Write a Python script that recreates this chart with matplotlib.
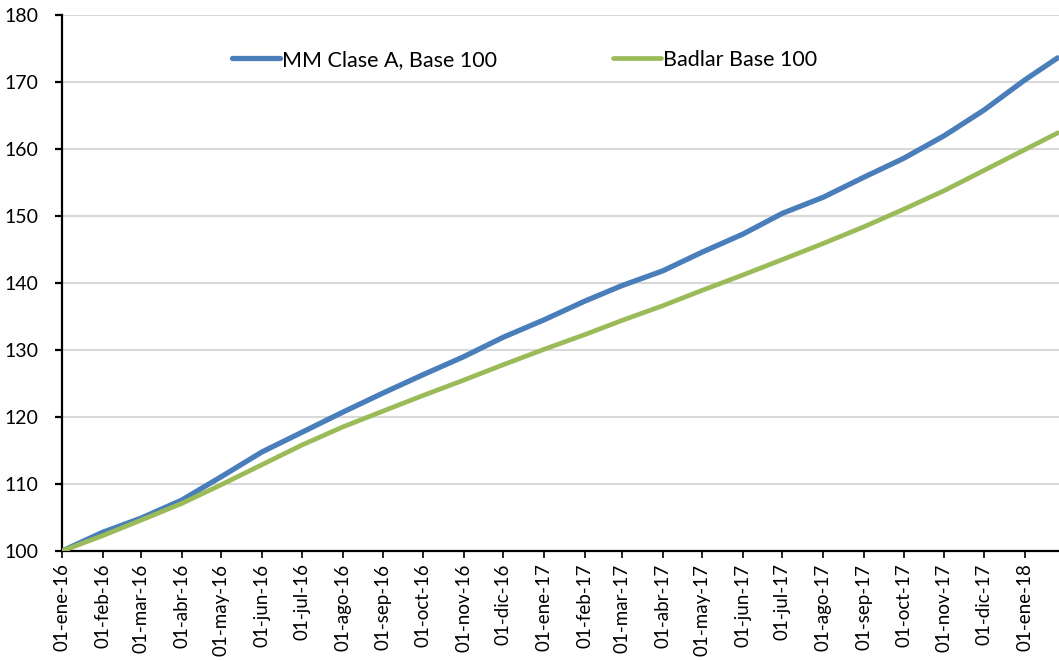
import datetime as dt
import matplotlib
matplotlib.use("Agg")
import matplotlib.pyplot as plt
import matplotlib.dates as mdates

plt.rcParams['font.family'] = ['Lato', 'DejaVu Sans']

# month starts (plus last day shown) and values
dates = [dt.date(2016, m, 1) for m in range(1, 13)] + \
        [dt.date(2017, m, 1) for m in range(1, 13)] + \
        [dt.date(2018, 1, 1), dt.date(2018, 1, 26)]

mm_clase_a = [100.0, 102.8, 104.9, 107.6, 111.1, 114.8, 117.7, 120.7, 123.6, 126.3, 129.0, 131.9,
              134.5, 137.3, 139.6, 141.8, 144.6, 147.3, 150.4, 152.8, 155.8, 158.6, 162.0, 165.8,
              170.3, 173.6]
badlar = [100.0, 102.3, 104.6, 107.1, 109.9, 112.9, 115.8, 118.5, 120.9, 123.2, 125.5, 127.8,
          130.1, 132.3, 134.4, 136.6, 138.9, 141.2, 143.5, 145.9, 148.4, 151.0, 153.8, 156.8,
          159.9, 162.4]

month_abbr = ['ene', 'feb', 'mar', 'abr', 'may', 'jun', 'jul', 'ago', 'sep', 'oct', 'nov', 'dic']
tick_dates = dates[:25]
tick_labels = ['01-%s-%02d' % (month_abbr[d.month - 1], d.year % 100) for d in tick_dates]

fig = plt.figure(figsize=(10.59, 6.61), dpi=100)
ax = fig.add_axes([62 / 1059, 110 / 661, 997 / 1059, 536 / 661])

ax.plot(dates, mm_clase_a, color='#4A7EBB', lw=3.8, solid_capstyle='round',
        label='MM Clase A, Base 100', zorder=3)
ax.plot(dates, badlar, color='#9BBB59', lw=3.4, solid_capstyle='round',
        label='Badlar Base 100', zorder=3)

ax.set_ylim(100, 180)
ax.set_yticks(range(100, 181, 10))
ax.set_xlim(dt.date(2016, 1, 1), dt.date(2018, 1, 27))
ax.set_xticks(tick_dates)
ax.set_xticklabels(tick_labels, rotation=90)

ax.grid(axis='y', color='#D9D9D9', lw=1.5)
ax.set_axisbelow(True)
for s in ['top', 'right']:
    ax.spines[s].set_visible(False)
for s in ['left', 'bottom']:
    ax.spines[s].set_linewidth(1.6)
    ax.spines[s].set_color('black')

ax.tick_params(axis='y', length=5, width=1.6, pad=12, labelsize=14)
ax.tick_params(axis='x', length=5, width=1.2, pad=4, labelsize=13.5)

leg = ax.legend(loc='center', bbox_to_anchor=(0.464, 0.916), ncol=2, frameon=False,
                fontsize=15.5, handlelength=2.2, handletextpad=0.1, columnspacing=5.4)

fig.savefig('out.png', dpi=100)
